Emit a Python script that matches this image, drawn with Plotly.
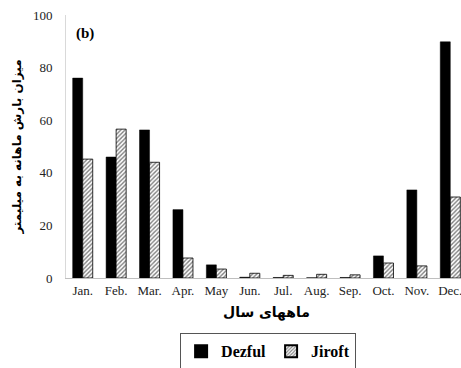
import plotly.graph_objects as go

months = ["Jan.", "Feb.", "Mar.", "Apr.", "May", "Jun.", "Jul.", "Aug.", "Sep.", "Oct.", "Nov.", "Dec."]
dezful = [76.0, 46.0, 56.3, 26.0, 5.0, 0.3, 0.2, 0.1, 0.2, 8.4, 33.5, 89.8]
jiroft = [45.2, 56.6, 44.0, 7.6, 3.4, 1.8, 1.0, 1.4, 1.2, 5.7, 4.6, 30.8]
yticks = [0, 20, 40, 60, 80, 100]

serif = "Liberation Serif"
arabic = "DejaVu Sans"

fig = go.Figure()
fig.add_trace(go.Bar(
    x=months, y=dezful, name="Dezful",
    marker=dict(color="black", line=dict(color="black", width=0.5)),
))
fig.add_trace(go.Bar(
    x=months, y=jiroft, name="Jiroft",
    marker=dict(color="white", line=dict(color="black", width=0.8),
                pattern=dict(shape="/", fgcolor="black", bgcolor="white", size=3, solidity=0.45)),
))

fig.update_layout(
    width=468, height=368,
    margin=dict(l=66, r=1, t=15, b=90, autoexpand=False),
    paper_bgcolor="white", plot_bgcolor="white",
    barmode="group", bargap=0.4, bargroupgap=0,
    font=dict(family=serif, size=13, color="black"),
    showlegend=True,
    legend=dict(
        orientation="h", x=0.504, xanchor="center", y=-0.21, yanchor="top",
        bordercolor="#555555", borderwidth=1,
        font=dict(family=serif, size=16, color="black", weight="bold"),
        itemsizing="constant", traceorder="normal", itemwidth=30,
    ),
    xaxis=dict(
        showline=True, linecolor="#bfbfbf", linewidth=1, ticks="",
        ticklabeloverflow="allow",
        tickfont=dict(family=serif, size=13, color="#222"),
        title=dict(text="ماههای سال", font=dict(family=arabic, size=14, color="black", weight="bold"), standoff=10),
    ),
    yaxis=dict(
        range=[0, 100], tickvals=yticks, showgrid=False, zeroline=False,
        showline=True, linecolor="#d9d9d9", linewidth=1, ticks="",
        ticklabelstandoff=10, ticklabeloverflow="allow",
        tickfont=dict(family=serif, size=13, color="#222"),
        title=dict(text="میزان بارش ماهانه به میلیمتر", font=dict(family=arabic, size=12, color="black", weight="bold"), standoff=8),
    ),
    annotations=[dict(
        text="<b>(b)</b>", x=0.02, y=0.97, xref="paper", yref="paper",
        xanchor="left", yanchor="top", showarrow=False,
        font=dict(family=serif, size=15, color="black"),
    )],
)

fig.write_html(
    "out.html",
    config={"displayModeBar": False},
    post_script="document.body.style.margin='0';document.body.style.overflow='hidden';",
)
